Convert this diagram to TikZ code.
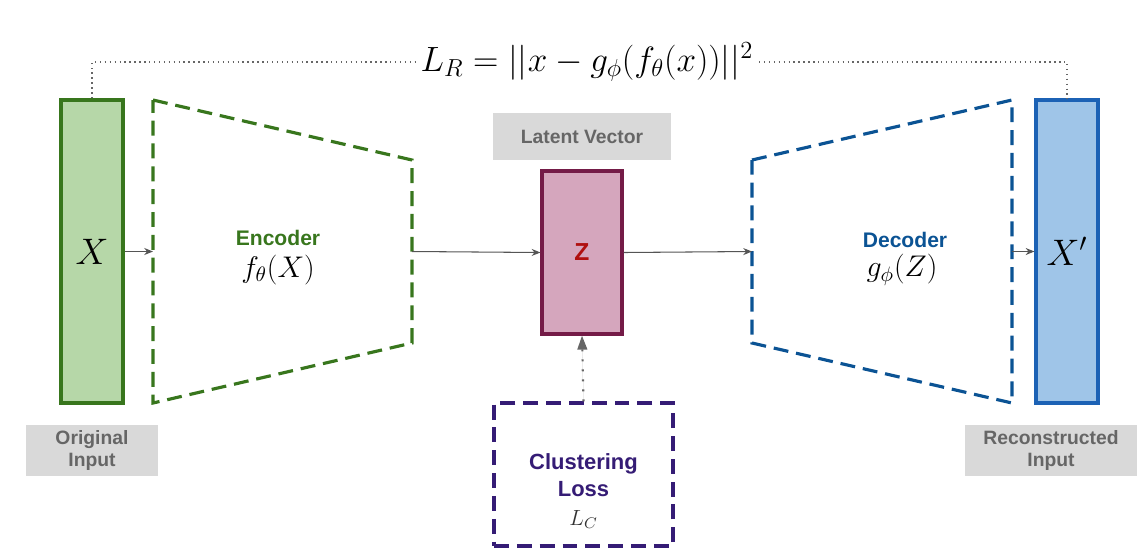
\RequirePackage{fix-cm}
\documentclass[tikz,border=0pt]{standalone}
\usepackage{fontspec}
\setsansfont{Liberation Sans}
\usetikzlibrary{positioning, arrows.meta}
\definecolor{encgreen}{HTML}{38761D}
\definecolor{ingreen}{HTML}{B6D7A8}
\definecolor{zmaroon}{HTML}{741B47}
\definecolor{zpink}{HTML}{D5A6BD}
\definecolor{zred}{HTML}{B01010}
\definecolor{decblue}{HTML}{0B5394}
\definecolor{outblue}{HTML}{1C62B5}
\definecolor{outfill}{HTML}{9FC5E8}
\definecolor{losspurple}{HTML}{351C75}
\definecolor{tagfill}{HTML}{D9D9D9}
\definecolor{taggray}{HTML}{666666}
\definecolor{arrgray}{HTML}{555555}
\tikzset{
  vec/.style={
    draw, rectangle, line width=1.8pt,
    inner sep=0pt, font=\fontsize{21}{24}\selectfont
  },
  tag/.style={
    rectangle, fill=tagfill, text=taggray,
    font=\sffamily\bfseries\fontsize{11}{13}\selectfont,
    inner sep=0pt, align=center
  },
  lbl/.style={font=\sffamily\bfseries\fontsize{12}{14}\selectfont},
  fn/.style={font=\fontsize{17}{19}\selectfont},
  dashbox/.style={line width=1.8pt, dash pattern=on 8.5pt off 4.5pt},
  harr/.style={-{Stealth[length=5pt, width=4pt]}, line width=0.6pt, draw=arrgray},
  uparr/.style={-{Triangle[length=8pt, width=5.5pt]}, line width=1.2pt,
    draw=taggray, fill=taggray, dash pattern=on 1.2pt off 4.5pt},
  toparr/.style={dotted, line width=0.8pt, draw=taggray},
}
\begin{document}
\begin{tikzpicture}[x=0.02cm, y=-0.02cm]
        \useasboundingbox (0,0) rectangle (1137,549);
        % input, latent and output vectors
        \node[vec, draw=encgreen, fill=ingreen,
          minimum width=1.24cm, minimum height=6.06cm] (xin) at (92,251.5) {$X$};
        \node[vec, draw=zmaroon, fill=zpink, text=zred,
          minimum width=1.60cm, minimum height=3.26cm,
          font=\sffamily\bfseries\fontsize{14}{16}\selectfont] (z) at (582,252.5) {Z};
        \node[vec, draw=outblue, fill=outfill,
          minimum width=1.24cm, minimum height=6.06cm] (xout) at (1067,251.5) {$X'$};
        % encoder and decoder
        \coordinate (encw) at (153,251.5);
        \coordinate (ence) at (412,251.5);
        \coordinate (decw) at (752,251.5);
        \coordinate (dece) at (1012,251.5);
        \draw[dashbox, encgreen] (153,100) -- (412,160) -- (412,343) -- (153,403) -- cycle;
        \draw[dashbox, decblue] (752,160) -- (1012,100) -- (1012,403) -- (752,343) -- cycle;
        \node[lbl, text=encgreen] (enclbl) at (278,238) {Encoder};
        \node[fn] (encfn) at (278,270) {$f_\theta(X)$};
        \node[lbl, text=decblue] (declbl) at (905,240) {Decoder};
        \node[fn] (decfn) at (902,270) {$g_\phi(Z)$};
        % grey tags
        \node[tag, minimum width=3.56cm, minimum height=0.94cm] (lat) at (582,136.5) {Latent Vector};
        \node[tag, minimum width=2.64cm, minimum height=1.02cm] (orig) at (92,450.5) {Original\\Input};
        \node[tag, minimum width=3.44cm, minimum height=1.02cm] (recon) at (1051,450.5) {Reconstructed\\Input};
        % clustering loss
        \node[draw=losspurple, dashbox, rectangle,
          minimum width=3.58cm, minimum height=2.86cm] (clust) at (583.5,474.5) {};
        \node[lbl, text=losspurple, align=center, font=\sffamily\bfseries\fontsize{12.5}{15.5}\selectfont]
          (clusttxt) at (583.5,491) {Clustering\\Loss\\[1pt]{\normalfont\fontsize{12.5}{14}\selectfont\color{black!80}$L_C$}};
        % reconstruction loss
        \node[font=\fontsize{20}{23}\selectfont, inner sep=3pt] (lr) at (587,62)
          {$L_R = ||x - g_\phi(f_\theta(x))||^2$};
        % connectors
        \draw[harr] (xin.east) -- (encw);
        \draw[harr] (ence) -- (z.west);
        \draw[harr] (z.east) -- (decw);
        \draw[harr] (dece) -- (xout.west);
        \draw[uparr] (clust.north) -- (z.south);
        \draw[toparr] (xin.north) |- (lr.west);
        \draw[toparr] (lr.east) -| (xout.north);
      \end{tikzpicture}
\end{document}
